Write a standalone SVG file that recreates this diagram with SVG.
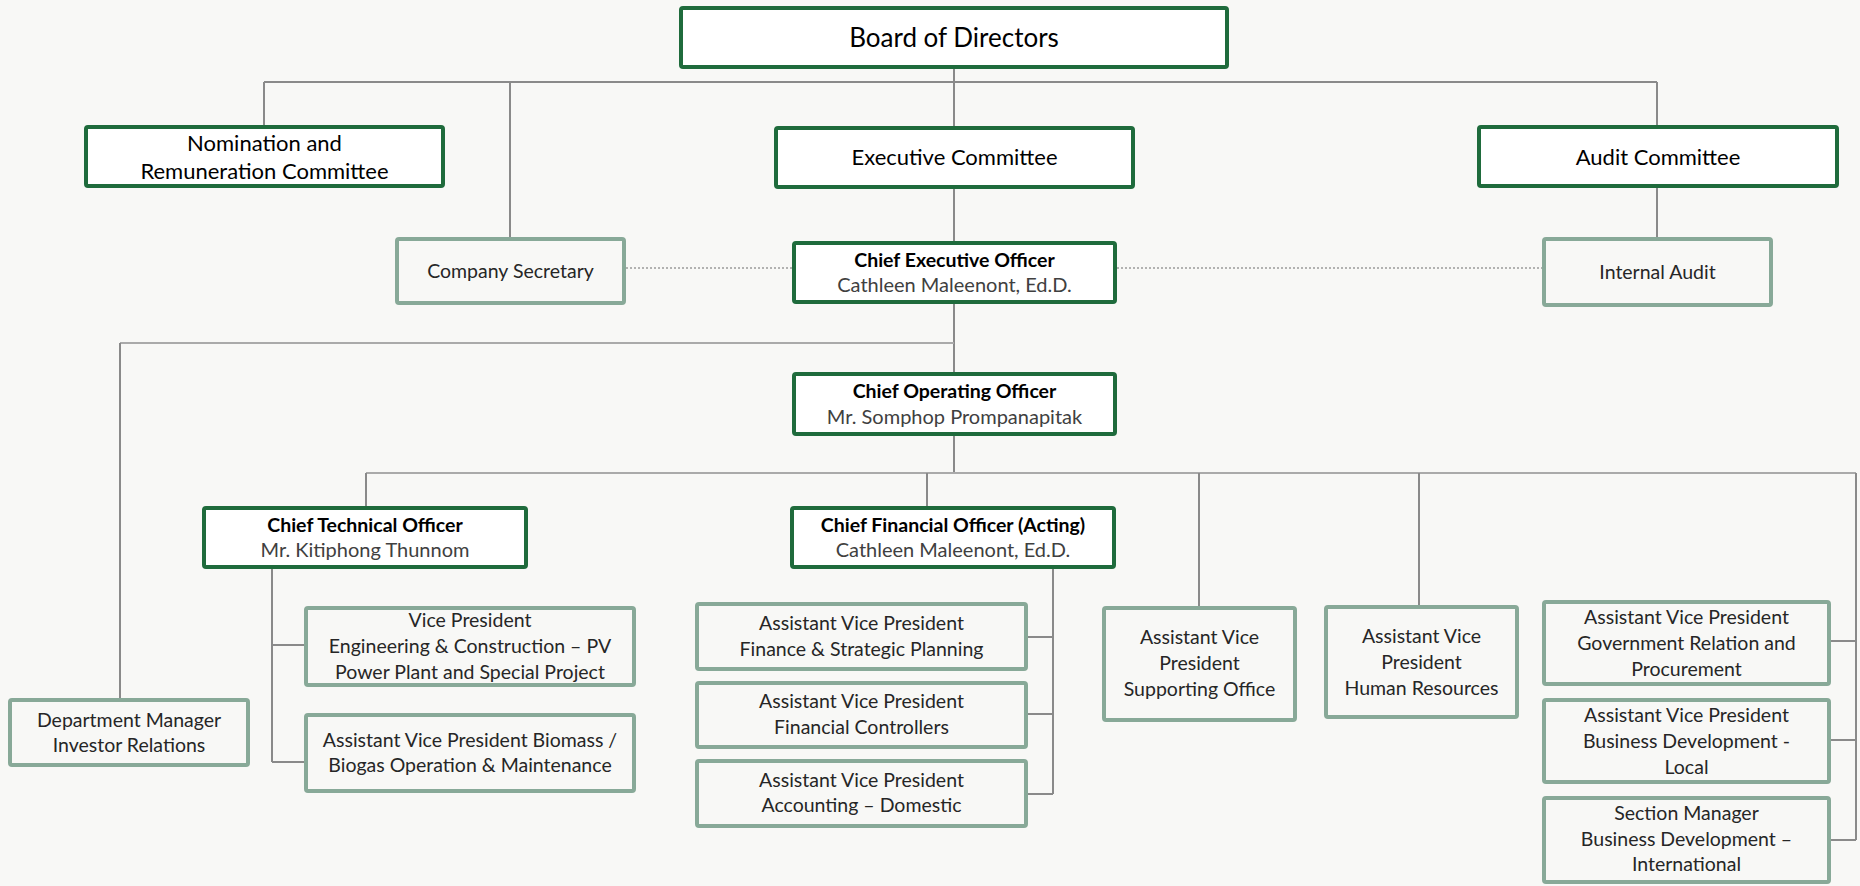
<svg xmlns="http://www.w3.org/2000/svg" width="1860" height="886" viewBox="0 0 1860 886">
<style>
.bg{fill:#f8f8f6}
.dk{fill:#ffffff;stroke:#1f6b3c;stroke-width:4}
.lt{fill:#f8f8f6;stroke:#88a998;stroke-width:4}
.ln{fill:none;stroke:#8a8a8a;stroke-width:2}
.lh{fill:none;stroke:#aaaaaa;stroke-width:2}
.dot{fill:none;stroke:#9a9a9a;stroke-width:1.5;stroke-dasharray:2 2}
text{font-family:Lato,"Open Sans","Liberation Sans",sans-serif;text-anchor:middle}
.big{font-size:26px;fill:#000}
.cm{font-size:22px;fill:#000}
.tt{font-size:19.5px;font-weight:bold;fill:#000}
.nm{font-size:20px;fill:#404040}
.tx{font-size:19.5px;fill:#262626}
</style>
<rect class="bg" x="0" y="0" width="1860" height="886"/>
<g id="connectors">
<path class="ln" d="M954 69V126M954 189V241M954 304V372M954 436V473"/>
<path class="ln" d="M264 82H1657M264 82V125M510 82V237M1657 82V125M1657 188V237"/>
<path class="lh" d="M120 343H954"/>
<path class="ln" d="M120 343V698"/>
<path class="lh" d="M366 473H1856"/>
<path class="ln" d="M366 473V506M927 473V506M1199 473V606M1419 473V605M1856 473V840M1831 641H1856M1831 740H1856M1831 840H1856"/>
<path class="ln" d="M272 569V762M272 645H304M272 762H304"/>
<path class="ln" d="M1053 569V794M1028 637H1053M1028 714H1053M1028 794H1053"/>
<path class="dot" d="M626 268H792M1117 268H1542"/>
</g>
<g id="board"><rect class="dk" x="681" y="8" width="546" height="59" rx="2"/><text class="big" x="954" y="47">Board of Directors</text></g>
<g id="nomination"><rect class="dk" x="86" y="127" width="357" height="59" rx="2"/><text class="cm" x="264.5" y="151">Nomination and</text><text class="cm" x="264.5" y="179">Remuneration Committee</text></g>
<g id="executive"><rect class="dk" x="776" y="128" width="357" height="59" rx="2"/><text class="cm" x="954.5" y="165">Executive Committee</text></g>
<g id="audit"><rect class="dk" x="1479" y="127" width="358" height="59" rx="2"/><text class="cm" x="1658" y="165">Audit Committee</text></g>
<g id="secretary"><rect class="lt" x="397" y="239" width="227" height="64" rx="2"/><text class="tx" x="510.5" y="278">Company Secretary</text></g>
<g id="ceo"><rect class="dk" x="794" y="243" width="321" height="59" rx="2"/><text class="tt" x="954.5" y="267">Chief Executive Officer</text><text class="nm" x="954.5" y="292">Cathleen Maleenont, Ed.D.</text></g>
<g id="internal-audit"><rect class="lt" x="1544" y="239" width="227" height="66" rx="2"/><text class="tx" x="1657.5" y="279">Internal Audit</text></g>
<g id="coo"><rect class="dk" x="794" y="374" width="321" height="60" rx="2"/><text class="tt" x="954.5" y="398">Chief Operating Officer</text><text class="nm" x="954.5" y="424">Mr. Somphop Prompanapitak</text></g>
<g id="cto"><rect class="dk" x="204" y="508" width="322" height="59" rx="2"/><text class="tt" x="365" y="532">Chief Technical Officer</text><text class="nm" x="365" y="557">Mr. Kitiphong Thunnom</text></g>
<g id="cfo"><rect class="dk" x="792" y="508" width="322" height="59" rx="2"/><text class="tt" x="953" y="532">Chief Financial Officer (Acting)</text><text class="nm" x="953" y="557">Cathleen Maleenont, Ed.D.</text></g>
<g id="investor-relations"><rect class="lt" x="10" y="700" width="238" height="65" rx="2"/><text class="tx" x="129" y="727">Department Manager</text><text class="tx" x="129" y="752">Investor Relations</text></g>
<g id="vp-engineering"><rect class="lt" x="306" y="608" width="328" height="77" rx="2"/><text class="tx" x="470" y="627">Vice President</text><text class="tx" x="470" y="653">Engineering &amp; Construction – PV</text><text class="tx" x="470" y="679">Power Plant and Special Project</text></g>
<g id="avp-biomass"><rect class="lt" x="306" y="715" width="328" height="76" rx="2"/><text class="tx" x="470" y="747">Assistant Vice President Biomass /</text><text class="tx" x="470" y="772">Biogas Operation &amp; Maintenance</text></g>
<g id="avp-finance"><rect class="lt" x="697" y="604" width="329" height="65" rx="2"/><text class="tx" x="861.5" y="630">Assistant Vice President</text><text class="tx" x="861.5" y="656">Finance &amp; Strategic Planning</text></g>
<g id="avp-controllers"><rect class="lt" x="697" y="683" width="329" height="64" rx="2"/><text class="tx" x="861.5" y="708">Assistant Vice President</text><text class="tx" x="861.5" y="734">Financial Controllers</text></g>
<g id="avp-accounting"><rect class="lt" x="697" y="761" width="329" height="65" rx="2"/><text class="tx" x="861.5" y="787">Assistant Vice President</text><text class="tx" x="861.5" y="812">Accounting – Domestic</text></g>
<g id="avp-supporting"><rect class="lt" x="1104" y="608" width="191" height="112" rx="2"/><text class="tx" x="1199.5" y="644">Assistant Vice</text><text class="tx" x="1199.5" y="670">President</text><text class="tx" x="1199.5" y="696">Supporting Office</text></g>
<g id="avp-hr"><rect class="lt" x="1326" y="607" width="191" height="110" rx="2"/><text class="tx" x="1421.5" y="643">Assistant Vice</text><text class="tx" x="1421.5" y="669">President</text><text class="tx" x="1421.5" y="695">Human Resources</text></g>
<g id="avp-government"><rect class="lt" x="1544" y="602" width="285" height="82" rx="2"/><text class="tx" x="1686.5" y="624">Assistant Vice President</text><text class="tx" x="1686.5" y="650">Government Relation and</text><text class="tx" x="1686.5" y="676">Procurement</text></g>
<g id="avp-bd-local"><rect class="lt" x="1544" y="700" width="285" height="82" rx="2"/><text class="tx" x="1686.5" y="722">Assistant Vice President</text><text class="tx" x="1686.5" y="748">Business Development -</text><text class="tx" x="1686.5" y="774">Local</text></g>
<g id="sm-bd-international"><rect class="lt" x="1544" y="798" width="285" height="84" rx="2"/><text class="tx" x="1686.5" y="820">Section Manager</text><text class="tx" x="1686.5" y="846">Business Development –</text><text class="tx" x="1686.5" y="871">International</text></g>
</svg>
